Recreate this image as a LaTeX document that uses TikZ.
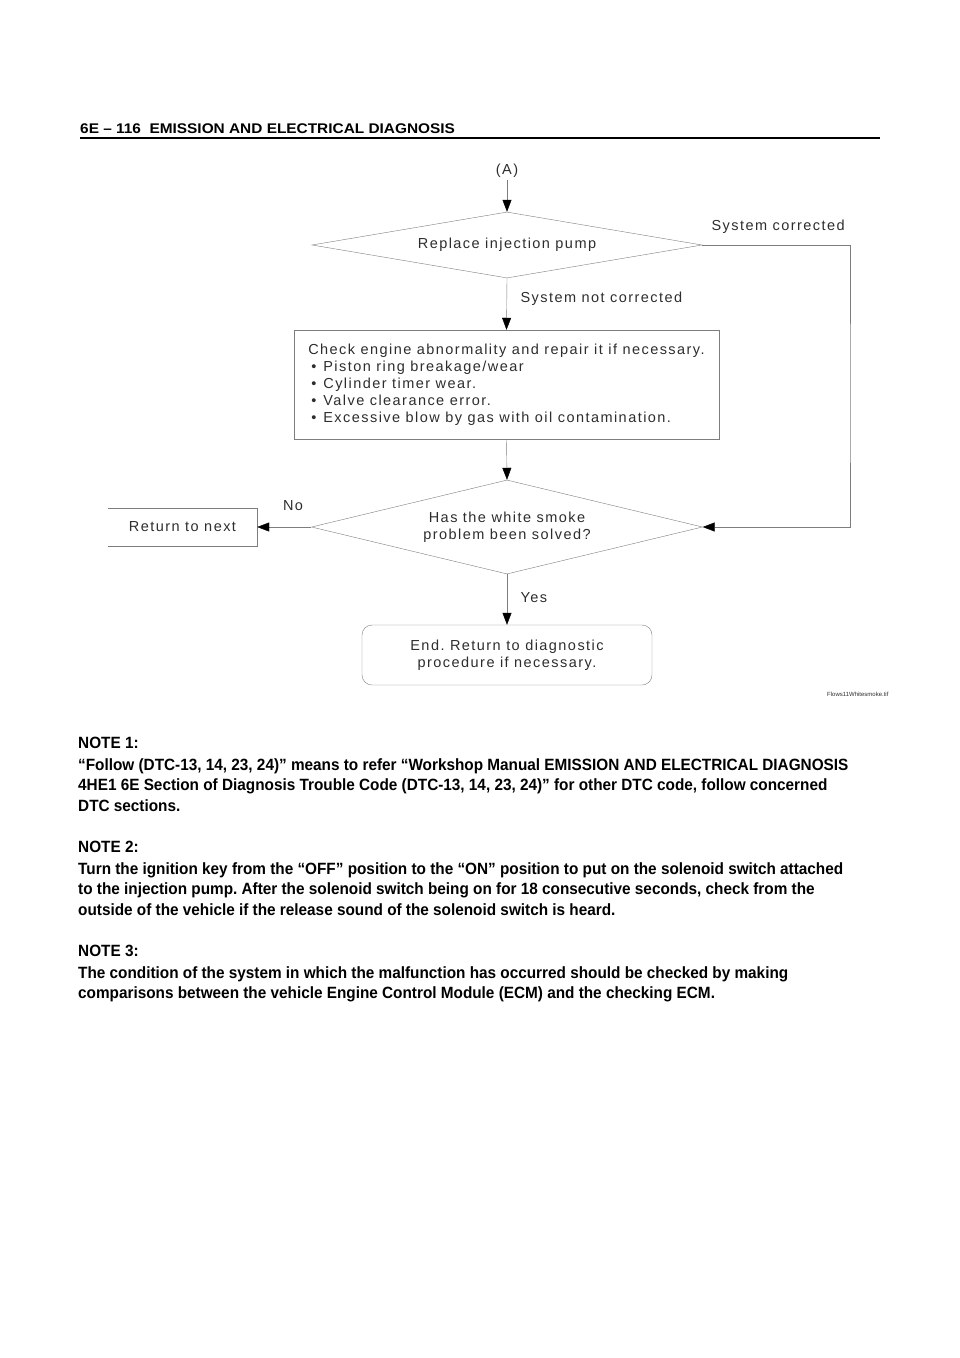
\documentclass[tikz,border=0pt]{standalone}
\usepackage{fontspec}
\setmainfont{Liberation Sans}
\newfontfamily\flowfont[LetterSpace=10]{Liberation Sans}
\newfontfamily\notefont[FakeStretch=0.94]{Liberation Sans}
\newfontfamily\headfont[FakeStretch=1.1]{Liberation Sans}
\usepackage{tikz}
\usetikzlibrary{arrows.meta,positioning,shapes.geometric}
\definecolor{linegray}{RGB}{125,125,125}
\definecolor{textgray}{RGB}{45,45,45}
\tikzset{flowtext/.style={font=\flowfont\fontsize{14.5}{17}\selectfont,text=textgray},
    decision/.style={draw=linegray,diamond,inner sep=0,flowtext,align=center},
    checkbox/.style={draw=linegray,rectangle,flowtext,align=left},
    endbox/.style={draw=linegray,rectangle,rounded corners=10pt,flowtext,align=center},
    flowarrow/.style={draw=linegray,-{Triangle[length=12pt,width=9pt,black]}},
    flowline/.style={draw=linegray},
    notetext/.style={font=\notefont\bfseries\fontsize{16.3}{20.5}\selectfont,align=left,anchor=north west,inner sep=0}}

\begin{document}
\frenchspacing
\begin{tikzpicture}[x=1pt,y=-1pt]
\useasboundingbox (0,0) rectangle (960,1358);

% page header

\node (header) [anchor=base west,inner sep=0,font=\headfont\bfseries\fontsize{14}{16}\selectfont] at (80,133) {6E – 116\ \ EMISSION AND ELECTRICAL DIAGNOSIS};
\draw [line width=1.5pt] (80,138) -- (880,138);

% flow chart

\node (start) [flowtext,inner sep=2pt] at (507,171) {(A)};
\node (pump) [decision,aspect=5.9,minimum width=390pt,minimum height=66pt] at (507,245) {Replace injection pump};
\node (check) [checkbox,minimum width=425pt,minimum height=109pt] at (506.5,384.5)
    {Check engine abnormality and repair it if necessary.\\
     \hspace{3pt}\textbullet\hspace{7pt}Piston ring breakage/wear\\
     \hspace{3pt}\textbullet\hspace{7pt}Cylinder timer wear.\\
     \hspace{3pt}\textbullet\hspace{7pt}Valve clearance error.\\
     \hspace{3pt}\textbullet\hspace{7pt}Excessive blow by gas with oil contamination.};
\node (solved) [decision,aspect=4.16,minimum width=391pt,minimum height=94pt] at (507,527) {Has the white smoke\\problem been solved?};
\node (next) [flowtext,minimum width=149pt,minimum height=37pt] at (182.5,527) {Return to next};
\node (done) [endbox,minimum width=290pt,minimum height=60pt] at (507,655) {End. Return to diagnostic\\procedure if necessary.};
\coordinate (loop) at (850,400);

\draw [flowline] (next.north west) -- (next.north east) -- (next.south east) -- (next.south west);

\draw [flowarrow] (start.south) -- (pump.north);
\draw [flowarrow] (pump.south) -- (check.north);
\draw [flowarrow] (check.south) -- (solved.north);
\draw [flowarrow] (solved.south) -- (done.north);
\draw [flowarrow] (solved.west) -- (next.east);
\draw [flowarrow] (pump.east) -| (loop) |- (solved.east);

\node (corrected) [flowtext,anchor=base west] at (708,230) {System corrected};
\node (notcorrected) [flowtext,anchor=base west] at (517,302) {System not corrected};
\node (no) [flowtext] at (293,506) {No};
\node (yes) [flowtext,anchor=base west] at (517,602) {Yes};
\node (fname) [font=\fontsize{6}{7}\selectfont,text=textgray,anchor=base east] at (892,696) {Flows11Whitesmoke.tif};

% notes

\node (note1) [notetext] at (78,737) {NOTE 1:};
\node (note1text) [notetext] at (78,758)
    {“Follow (DTC-13, 14, 23, 24)” means to refer “Workshop Manual EMISSION AND ELECTRICAL DIAGNOSIS\\
     4HE1 6E Section of Diagnosis Trouble Code (DTC-13, 14, 23, 24)” for other DTC code, follow concerned\\
     DTC sections.};
\node (note2) [notetext] at (78,841) {NOTE 2:};
\node (note2text) [notetext] at (78,862)
    {Turn the ignition key from the “OFF” position to the “ON” position to put on the solenoid switch attached\\
     to the injection pump. After the solenoid switch being on for 18 consecutive seconds, check from the\\
     outside of the vehicle if the release sound of the solenoid switch is heard.};
\node (note3) [notetext] at (78,945) {NOTE 3:};
\node (note3text) [notetext] at (78,966)
    {The condition of the system in which the malfunction has occurred should be checked by making\\
     comparisons between the vehicle Engine Control Module (ECM) and the checking ECM.};

\end{tikzpicture}
\end{document}
